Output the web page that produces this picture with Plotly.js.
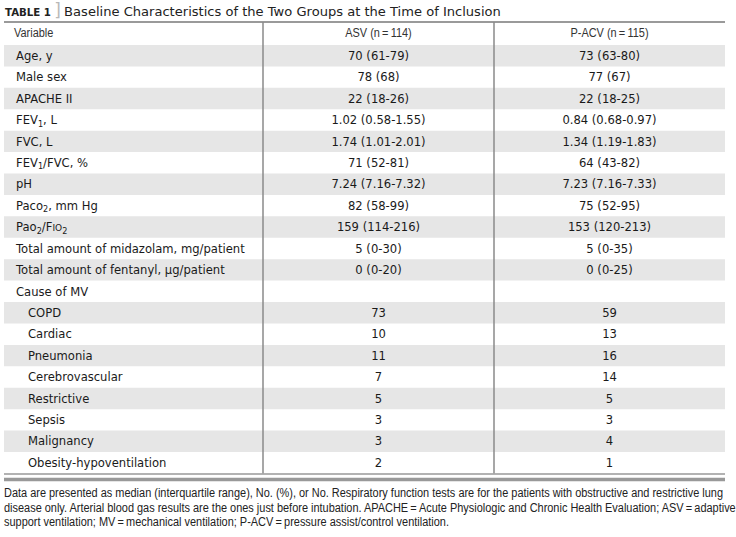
<!DOCTYPE html>
<html>
<head>
<meta charset="utf-8">
<script src="https://cdn.plot.ly/plotly-3.0.1.min.js"></script>
<style>html,body{margin:0;padding:0;background:#fff;}#chart{width:736px;height:537px;}</style>
</head>
<body>
<div id="chart"></div>
<script>
// ---------- data ----------
const columnHeaders = ["Variable", "ASV (n\u2009=\u2009114)", "P-ACV (n\u2009=\u2009115)"];
const variables = [
  "Age, y",
  "Male sex",
  "APACHE II",
  "FEV<sub>1</sub>, L",
  "FVC, L",
  "FEV<sub>1</sub>/FVC, %",
  "pH",
  "Paco<sub>2</sub>, mm Hg",
  "Pao<sub>2</sub>/F<span style=\"font-size:9px\">IO</span><sub>2</sub>",
  "Total amount of midazolam, mg/patient",
  "Total amount of fentanyl, \u03bcg/patient"
];
const asvValues = ["70 (61-79)", "78 (68)", "22 (18-26)", "1.02 (0.58-1.55)", "1.74 (1.01-2.01)",
  "71 (52-81)", "7.24 (7.16-7.32)", "82 (58-99)", "159 (114-216)", "5 (0-30)", "0 (0-20)"];
const pacvValues = ["73 (63-80)", "77 (67)", "22 (18-25)", "0.84 (0.68-0.97)", "1.34 (1.19-1.83)",
  "64 (43-82)", "7.23 (7.16-7.33)", "75 (52-95)", "153 (120-213)", "5 (0-35)", "0 (0-25)"];
const causeLabel = "Cause of MV";
const causes = ["COPD", "Cardiac", "Pneumonia", "Cerebrovascular", "Restrictive", "Sepsis", "Malignancy", "Obesity-hypoventilation"];
const asvCause = [73, 10, 11, 7, 5, 3, 3, 2];
const pacvCause = [59, 13, 16, 14, 5, 3, 4, 1];
const titleLabel = "TABLE 1";
const titleText = "Baseline Characteristics of the Two Groups at the Time of Inclusion";
const footnote = [
  "Data are presented as median (interquartile range), No. (%), or No. Respiratory function tests are for the patients with obstructive and restrictive lung",
  "disease only. Arterial blood gas results are the ones just before intubation. APACHE\u2009=\u2009Acute Physiologic and Chronic Health Evaluation; ASV\u2009=\u2009adaptive",
  "support ventilation; MV\u2009=\u2009mechanical ventilation; P-ACV\u2009=\u2009pressure assist/control ventilation."
];

// ---------- layout geometry ----------
const W = 736, H = 537;
const TL = 4, TR = 725;          // table left/right
const TOP = 22, HEAD_B = 45;     // table top, header bottom
const ROW_H = 21.42;
const COL1 = 263, COL2 = 494;    // column separators
const X_LABEL = 16, X_INDENT = 28;
const X_C1 = (COL1 + COL2) / 2, X_C2 = (COL2 + TR) / 2;
const BODY_FONT = "DejaVu Sans";
const NARROW_FONT = "Liberation Sans";   // compressed after drawing to look like a narrow face
const NARROW_SIZE = 12.5;
const FOOT_TARGET = 719;                 // width of first footnote line

// font fitting via canvas measurement
const ctx = document.createElement("canvas").getContext("2d");
function tw(str, size, fam, weight) { ctx.font = (weight || "normal") + " " + size + "px " + fam; return ctx.measureText(str).width; }
function fit(str, target, fam, weight) { return Math.min(20, 20 * target / tw(str, 20, fam, weight)); }
const bodySize = fit("Total amount of midazolam, mg/patient", 229, "'" + BODY_FONT + "'");
const titleSize = fit(titleText, 437, "'" + BODY_FONT + "'");
const labelSize = fit(titleLabel, 46, "'" + BODY_FONT + "'", "bold");
const squeezeRatio = FOOT_TARGET / tw(footnote[0], NARROW_SIZE, "'" + NARROW_FONT + "'");

// build rows
const rowLabels = [], rowA = [], rowB = [], rowIndent = [];
variables.forEach((v, i) => { rowLabels.push(v); rowA.push(asvValues[i]); rowB.push(pacvValues[i]); rowIndent.push(false); });
rowLabels.push(causeLabel); rowA.push(""); rowB.push(""); rowIndent.push(false);
causes.forEach((c, i) => { rowLabels.push(c); rowA.push(String(asvCause[i])); rowB.push(String(pacvCause[i])); rowIndent.push(true); });
const nRows = rowLabels.length;
const TEXT_DY = 1.3;
const rowY = k => HEAD_B + ROW_H * (k + 0.5) + TEXT_DY;
const tableBottom = HEAD_B + ROW_H * nRows;

const bodyFont = {family: BODY_FONT, size: bodySize, color: "#1a1a1a"};
function valueTrace(vals, xc) {
  const x = [], y = [], t = [];
  vals.forEach((v, k) => { if (v !== "") { x.push(xc); y.push(rowY(k)); t.push(v); } });
  return {type: "scatter", mode: "text", x: x, y: y, text: t, textposition: "middle center",
          textfont: bodyFont, hoverinfo: "skip", showlegend: false};
}
const traces = [
  {type: "scatter", mode: "text", x: rowLabels.map((_, k) => rowIndent[k] ? X_INDENT : X_LABEL),
   y: rowLabels.map((_, k) => rowY(k)),
   text: rowLabels, textposition: "middle right", textfont: bodyFont, hoverinfo: "skip", showlegend: false},
  valueTrace(rowA, X_C1),
  valueTrace(rowB, X_C2),
  {type: "scatter", mode: "text", x: [X_LABEL - 2, X_C1, X_C2], y: [34, 34, 34], text: columnHeaders,
   textposition: ["middle right", "middle center", "middle center"],
   textfont: {family: NARROW_FONT, size: NARROW_SIZE, color: "#333"}, hoverinfo: "skip", showlegend: false}
];

const shapes = [];
for (let k = 0; k < nRows; k++) {
  if (k % 2 === 0) shapes.push({type: "rect", xref: "x", yref: "y", x0: TL, x1: TR,
    y0: HEAD_B + ROW_H * k, y1: HEAD_B + ROW_H * (k + 1), fillcolor: "#e6e6e6", line: {width: 0}, layer: "below"});
}
shapes.push({type: "line", xref: "x", yref: "y", x0: TL, x1: TR, y0: TOP, y1: TOP, line: {color: "#9a9a9a", width: 2}});
[COL1, COL2].forEach(cx => shapes.push({type: "line", xref: "x", yref: "y", x0: cx, x1: cx, y0: TOP, y1: tableBottom, line: {color: "#8a8a8a", width: 1.5}}));
shapes.push({type: "line", xref: "x", yref: "y", x0: TL, x1: TR, y0: tableBottom + 0.7, y1: tableBottom + 0.7, line: {color: "#999", width: 1.5}});
shapes.push({type: "line", xref: "x", yref: "y", x0: TL, x1: TR, y0: tableBottom + 6, y1: tableBottom + 6, line: {color: "#999", width: 3.5}});

const annotations = [
  {xref: "x", yref: "y", x: TL - 1, y: 9.5, xanchor: "left", yanchor: "middle", showarrow: false,
   text: "<b>" + titleLabel + "</b> <span style=\"color:#b8b8b8;font-size:17px\">]</span> " +
         "<span style=\"font-size:" + titleSize.toFixed(2) + "px\">" + titleText + "</span>",
   font: {family: BODY_FONT, size: labelSize, color: "#222"}}
];
footnote.forEach((line, i) => annotations.push({xref: "x", yref: "y", x: TL - 2, y: 493 + 14.5 * i,
  xanchor: "left", yanchor: "middle", align: "left", showarrow: false, text: line,
  font: {family: NARROW_FONT, size: NARROW_SIZE, color: "#222"}}));

const layout = {
  width: W, height: H, margin: {l: 0, r: 0, t: 0, b: 0},
  paper_bgcolor: "#fff", plot_bgcolor: "#fff",
  xaxis: {range: [0, W], visible: false, fixedrange: true},
  yaxis: {range: [H, 0], visible: false, fixedrange: true},
  shapes: shapes, annotations: annotations, showlegend: false
};

function squeeze(t) {
  const w = t.getComputedTextLength();
  if (w > 0) { t.setAttribute("textLength", (w * squeezeRatio).toFixed(2)); t.setAttribute("lengthAdjust", "spacingAndGlyphs"); }
}
Plotly.newPlot("chart", traces, layout, {staticPlot: true, displayModeBar: false}).then(gd => {
  gd.querySelectorAll("g.annotation").forEach(g => {
    if (Number(g.getAttribute("data-index")) >= 1) {
      const t = g.querySelector("text.annotation-text");
      if (t) squeeze(t);
      const bg = g.querySelector("rect.bg");
      if (bg) { const bw = Number(bg.getAttribute("width")); if (bw > 0) bg.setAttribute("width", (bw * squeezeRatio).toFixed(2)); }
    }
  });
  const traceGroups = gd.querySelectorAll(".scatterlayer .trace");
  const headerGroup = traceGroups[traceGroups.length - 1];
  headerGroup.querySelectorAll("text").forEach(squeeze);
});
</script>
</body>
</html>
